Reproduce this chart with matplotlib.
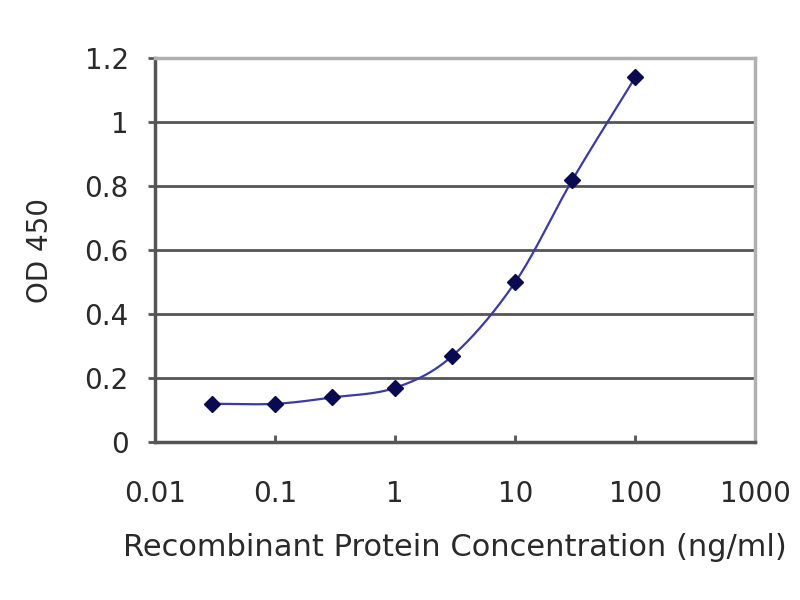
import numpy as np
import matplotlib
matplotlib.use("Agg")
import matplotlib.pyplot as plt

conc = [0.03, 0.1, 0.3, 1, 3, 10, 30, 100]
od450 = [0.12, 0.12, 0.14, 0.17, 0.27, 0.50, 0.82, 1.14]
x_ticks = [0.01, 0.1, 1, 10, 100, 1000]
x_tick_labels = ["0.01", "0.1", "1", "10", "100", "1000"]
y_ticks = [0, 0.2, 0.4, 0.6, 0.8, 1, 1.2]
y_tick_labels = ["0", "0.2", "0.4", "0.6", "0.8", "1", "1.2"]

plt.rcParams['font.family'] = ['DejaVu Sans']

def smooth_curve(xs, ys, n=30):
    # Catmull-Rom spline in log10(x) space (rendering only)
    lx = np.log10(np.array(xs, float))
    y = np.array(ys, float)
    P = np.column_stack([lx, y])
    P = np.vstack([2 * P[0] - P[1], P, 2 * P[-1] - P[-2]])
    out = []
    for i in range(1, len(P) - 2):
        p0, p1, p2, p3 = P[i - 1], P[i], P[i + 1], P[i + 2]
        t = np.linspace(0, 1, n)[:, None]
        seg = 0.5 * ((2 * p1) + (-p0 + p2) * t + (2 * p0 - 5 * p1 + 4 * p2 - p3) * t ** 2
                     + (-p0 + 3 * p1 - 3 * p2 + p3) * t ** 3)
        out.append(seg)
    out = np.vstack(out)
    return 10 ** out[:, 0], out[:, 1]

fig = plt.figure(figsize=(8, 6), dpi=100)
ax = fig.add_axes([0.194, 0.263, 0.75, 0.64])
ax.set_xscale('log')
ax.set_xlim(0.01, 1000)
ax.set_ylim(0, 1.2)

for yv in y_ticks[1:]:
    ax.axhline(yv, color='#555555', lw=2.0, zorder=1)

sx, sy = smooth_curve(conc, od450)
ax.plot(sx, sy, color='#3a3aa8', lw=1.6, zorder=3)
ax.plot(conc, od450, linestyle='none', marker='D', markersize=8,
        color='#0a0a50', zorder=4)

ax.set_xticks(x_ticks)
ax.set_xticklabels(x_tick_labels)
ax.xaxis.set_minor_locator(matplotlib.ticker.NullLocator())
ax.set_yticks(y_ticks)
ax.set_yticklabels(y_tick_labels)
ax.tick_params(axis='x', direction='in', length=5, width=2, color='#555555',
               labelsize=20, labelcolor='#2a2a2a', pad=27)
ax.tick_params(axis='y', direction='out', length=5, width=2, color='#555555',
               labelsize=20, labelcolor='#2a2a2a', pad=14)

for side in ['left', 'bottom']:
    ax.spines[side].set_color('#555555')
    ax.spines[side].set_linewidth(2.5)
for side in ['top', 'right']:
    ax.spines[side].set_color('#b0b0b0')
    ax.spines[side].set_linewidth(2.5)

ax.set_xlabel('Recombinant Protein Concentration (ng/ml)', fontsize=22,
              color='#2a2a2a', labelpad=18)
ax.set_ylabel('OD 450', fontsize=20, color='#2a2a2a', labelpad=22)

fig.savefig('out.png', dpi=100)
